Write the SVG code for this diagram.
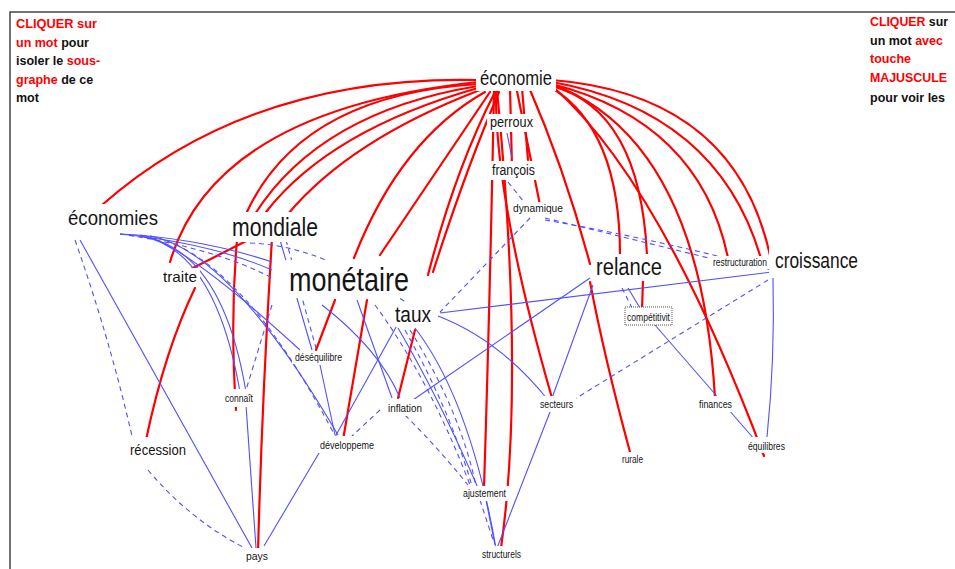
<svg xmlns="http://www.w3.org/2000/svg" width="955" height="569" viewBox="0 0 955 569">
<style>
.r{stroke:#ff0000;stroke-width:2.2;fill:none;stroke-linecap:round}
.b{stroke:#5050ff;stroke-width:1.1;fill:none}
.d{stroke-dasharray:5 4}
.bg{fill:#ffffff}
.n{font-family:"Liberation Sans",Arial,sans-serif;fill:#151515}
.h{font-family:"Liberation Sans",Arial,sans-serif;font-weight:bold;font-size:12.5px;fill:#111}
.red{fill:#ff0000}
</style>
<rect x="0" y="0" width="955" height="569" fill="#ffffff"/>
<g id="frame">
<path d="M10,569 L10,12 L955,12" stroke="#444" stroke-width="1.5" fill="none"/>
</g>
<g id="connectors">
<path class="r" d="M478,80 Q250,75 102,205"/>
<path class="r" d="M478,82 Q215,110 170,262"/>
<path class="r" d="M478,84 Q300,95 246,214"/>
<path class="r" d="M478,86 Q320,112 255,214"/>
<path class="r" d="M478,88 Q330,130 266,212"/>
<path class="r" d="M480,90 Q350,140 288,214"/>
<path class="r" d="M485,92 Q400,140 354,258"/>
<path class="r" d="M490,92 L380,255"/>
<path class="r" d="M495,92 Q455,170 428,275"/>
<path class="r" d="M499,92 Q465,172 433,272"/>
<path class="r" d="M494,90 Q490,300 484,488"/>
<path class="r" d="M497,90 Q525,380 501,548"/>
<path class="r" d="M496,92 Q495,200 552,398"/>
<path class="r" d="M510,88 L512,168"/>
<path class="r" d="M516,86 L540,205"/>
<path class="r" d="M522,88 L528,160"/>
<path class="r" d="M528,85 Q565,170 590,264"/>
<path class="r" d="M552,80 Q740,95 772,265"/>
<path class="r" d="M552,82 Q720,112 762,262"/>
<path class="r" d="M552,84 Q700,122 728,258"/>
<path class="r" d="M552,86 Q640,110 647,255"/>
<path class="r" d="M552,88 Q620,130 620,255"/>
<path class="r" d="M552,84 Q700,140 715,398"/>
<path class="r" d="M552,86 Q660,180 764,456"/>
<path class="r" d="M268,230 L185,272"/>
<path class="r" d="M237,240 Q230,320 236,410"/>
<path class="r" d="M272,238 Q262,400 258,552"/>
<path class="r" d="M195,288 Q165,350 146,440"/>
<path class="r" d="M335,300 L316,350"/>
<path class="r" d="M367,300 L343,440"/>
<path class="r" d="M415,330 L398,398"/>
<path class="r" d="M590,282 Q605,360 630,452"/>
<path class="r" d="M643,280 L642,310"/>
<path class="b" d="M80,240 L252,548"/>
<path class="b d" d="M75,240 Q110,340 132,436"/>
<path class="b d" d="M148,470 Q190,520 245,548"/>
<path class="b" d="M120,234 Q200,238 272,262"/>
<path class="b" d="M120,234 Q210,243 272,270"/>
<path class="b d" d="M120,234 Q215,248 272,278"/>
<path class="b" d="M140,235 Q180,240 300,350"/>
<path class="b" d="M140,236 Q215,248 240,392"/>
<path class="b" d="M140,236 Q222,248 246,392"/>
<path class="b" d="M150,236 Q230,250 338,435"/>
<path class="b d" d="M150,236 Q240,255 333,432"/>
<path class="b" d="M280,240 L312,350"/>
<path class="b d" d="M286,240 L316,348"/>
<path class="b d" d="M250,243 Q320,245 410,305"/>
<path class="b d" d="M272,305 L246,390"/>
<path class="b" d="M357,300 L392,398"/>
<path class="b" d="M322,305 Q380,350 400,398"/>
<path class="b d" d="M375,305 Q430,380 470,485"/>
<path class="b" d="M400,320 L335,437"/>
<path class="b" d="M398,328 Q440,400 478,488"/>
<path class="b" d="M415,328 Q470,400 496,548"/>
<path class="b d" d="M405,330 Q450,410 472,486"/>
<path class="b d" d="M410,330 Q460,410 476,486"/>
<path class="b d" d="M405,415 Q440,450 468,485"/>
<path class="b d" d="M380,410 L352,436"/>
<path class="b" d="M322,448 L264,546"/>
<path class="b" d="M246,405 L256,548"/>
<path class="b" d="M320,365 L335,435"/>
<path class="b" d="M590,278 L410,402"/>
<path class="b" d="M593,285 L552,398"/>
<path class="b" d="M440,313 L772,272"/>
<path class="b" d="M438,316 Q500,340 548,400"/>
<path class="b d" d="M530,218 L440,312"/>
<path class="b d" d="M545,218 L725,262"/>
<path class="b d" d="M545,220 Q660,240 772,270"/>
<path class="b" d="M507,133 L512,158"/>
<path class="b d" d="M508,182 L524,202"/>
<path class="b" d="M628,288 L640,308"/>
<path class="b d" d="M622,288 L632,308"/>
<path class="b" d="M655,325 L755,440"/>
<path class="b" d="M773,278 Q775,360 767,437"/>
<path class="b d" d="M768,280 L570,402"/>
<path class="b" d="M550,412 L497,548"/>
<path class="b" d="M486,500 L495,545"/>
<path class="b d" d="M480,500 L493,540"/>
</g>
<g id="help-left">
<text class="h" x="16" y="28" textLength="81" lengthAdjust="spacingAndGlyphs"><tspan class="red">CLIQUER sur</tspan></text>
<text class="h" x="16" y="47"><tspan class="red">un mot</tspan> pour</text>
<text class="h" x="16" y="65">isoler le <tspan class="red">sous-</tspan></text>
<text class="h" x="16" y="84"><tspan class="red">graphe</tspan> de ce</text>
<text class="h" x="16" y="102">mot</text>
</g>
<g id="help-right">
<text class="h" x="870" y="26" textLength="78" lengthAdjust="spacingAndGlyphs"><tspan class="red">CLIQUER</tspan> sur</text>
<text class="h" x="870" y="45">un mot <tspan class="red">avec</tspan></text>
<text class="h" x="870" y="63"><tspan class="red">touche</tspan></text>
<text class="h" x="870" y="82" textLength="77" lengthAdjust="spacingAndGlyphs"><tspan class="red">MAJUSCULE</tspan></text>
<text class="h" x="870" y="102">pour voir les</text>
</g>
<g id="n-economie"><rect class="bg" x="476" y="64" width="80" height="27"/><text class="n" x="480" y="85" font-size="21" textLength="72" lengthAdjust="spacingAndGlyphs">économie</text></g>
<g id="n-perroux"><rect class="bg" x="487" y="114" width="49" height="18"/><text class="n" x="490" y="127" font-size="14" textLength="43" lengthAdjust="spacingAndGlyphs">perroux</text></g>
<g id="n-francois"><rect class="bg" x="489" y="161" width="49" height="19"/><text class="n" x="492" y="175" font-size="14" textLength="43" lengthAdjust="spacingAndGlyphs">françois</text></g>
<g id="n-dynamique"><rect class="bg" x="510" y="202" width="56" height="14"/><text class="n" x="513" y="212" font-size="11" textLength="50" lengthAdjust="spacingAndGlyphs">dynamique</text></g>
<g id="n-economies"><rect class="bg" x="65" y="204" width="96" height="27"/><text class="n" x="68" y="225" font-size="21" textLength="90" lengthAdjust="spacingAndGlyphs">économies</text></g>
<g id="n-mondiale"><rect class="bg" x="229" y="212" width="92" height="30"/><text class="n" x="232" y="236" font-size="25" textLength="86" lengthAdjust="spacingAndGlyphs">mondiale</text></g>
<g id="n-traite"><rect class="bg" x="160" y="268" width="40" height="19"/><text class="n" x="163" y="282" font-size="15" textLength="34" lengthAdjust="spacingAndGlyphs">traite</text></g>
<g id="n-monetaire"><rect class="bg" x="285" y="260" width="128" height="38"/><text class="n" x="289" y="291" font-size="33" textLength="120" lengthAdjust="spacingAndGlyphs">monétaire</text></g>
<g id="n-taux"><rect class="bg" x="392" y="302" width="42" height="25"/><text class="n" x="395" y="322" font-size="22" textLength="36" lengthAdjust="spacingAndGlyphs">taux</text></g>
<g id="n-relance"><rect class="bg" x="593" y="254" width="72" height="27"/><text class="n" x="596" y="275" font-size="23" textLength="66" lengthAdjust="spacingAndGlyphs">relance</text></g>
<g id="n-croissance"><rect class="bg" x="769" y="248" width="92" height="26"/><text class="n" x="775" y="268" font-size="22" textLength="83" lengthAdjust="spacingAndGlyphs">croissance</text></g>
<g id="n-restructuration"><rect class="bg" x="711" y="256" width="59" height="13"/><text class="n" x="713" y="266" font-size="10" textLength="54" lengthAdjust="spacingAndGlyphs">restructuration</text></g>
<g id="n-competitivit"><rect x="625" y="307" width="47" height="18" fill="#fff" stroke="#555" stroke-width="1" stroke-dasharray="1 1"/><text class="n" x="627" y="321" font-size="10" textLength="43" lengthAdjust="spacingAndGlyphs">compétitivit</text></g>
<g id="n-desequilibre"><rect class="bg" x="292" y="351" width="53" height="13"/><text class="n" x="295" y="361" font-size="10" textLength="47" lengthAdjust="spacingAndGlyphs">déséquilibre</text></g>
<g id="n-connait"><rect class="bg" x="222" y="389" width="34" height="18"/><text class="n" x="225" y="402" font-size="10" textLength="28" lengthAdjust="spacingAndGlyphs">connaît</text></g>
<g id="n-inflation"><rect class="bg" x="385" y="399" width="40" height="17"/><text class="n" x="388" y="412" font-size="11" textLength="34" lengthAdjust="spacingAndGlyphs">inflation</text></g>
<g id="n-secteurs"><rect class="bg" x="537" y="396" width="39" height="16"/><text class="n" x="540" y="408" font-size="11" textLength="33" lengthAdjust="spacingAndGlyphs">secteurs</text></g>
<g id="n-finances"><rect class="bg" x="696" y="396" width="39" height="16"/><text class="n" x="699" y="408" font-size="11" textLength="33" lengthAdjust="spacingAndGlyphs">finances</text></g>
<g id="n-equilibres"><rect class="bg" x="745" y="437" width="43" height="16"/><text class="n" x="748" y="450" font-size="11" textLength="37" lengthAdjust="spacingAndGlyphs">équilibres</text></g>
<g id="n-rurale"><rect class="bg" x="619" y="452" width="27" height="14"/><text class="n" x="622" y="463" font-size="10" textLength="21" lengthAdjust="spacingAndGlyphs">rurale</text></g>
<g id="n-developpeme"><rect class="bg" x="317" y="436" width="60" height="17"/><text class="n" x="320" y="449" font-size="11" textLength="54" lengthAdjust="spacingAndGlyphs">développeme</text></g>
<g id="n-recession"><rect class="bg" x="127" y="437" width="62" height="22"/><text class="n" x="130" y="455" font-size="15" textLength="56" lengthAdjust="spacingAndGlyphs">récession</text></g>
<g id="n-ajustement"><rect class="bg" x="460" y="486" width="49" height="15"/><text class="n" x="463" y="497" font-size="10" textLength="43" lengthAdjust="spacingAndGlyphs">ajustement</text></g>
<g id="n-pays"><rect class="bg" x="243" y="548" width="28" height="16"/><text class="n" x="246" y="560" font-size="11" textLength="22" lengthAdjust="spacingAndGlyphs">pays</text></g>
<g id="n-structurels"><rect class="bg" x="479" y="546" width="45" height="15"/><text class="n" x="482" y="558" font-size="10" textLength="39" lengthAdjust="spacingAndGlyphs">structurels</text></g>
</svg>
